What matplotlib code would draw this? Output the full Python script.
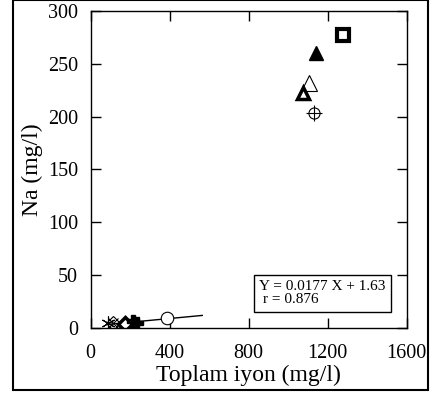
import matplotlib.pyplot as plt
from matplotlib.patches import Rectangle

plt.rcParams['font.family'] = 'Liberation Serif'

# sample points (Toplam iyon, Na)
square_x, square_y = [1276], [277]
tri_fill_x, tri_fill_y = [1139], [260]
tri_open_x, tri_open_y = [1107], [232]
tri_bold_x, tri_bold_y = [1073], [222]
circ_plus_x, circ_plus_y = [1131], [203]
circ_open_x, circ_open_y = [385], [9.5]
star_x, star_y = [90], [4]
xdiam_x, xdiam_y = [112], [4]
diam_x, diam_y = [174], [3.5]
plus_x, plus_y = [216, 232], [6, 4]

# regression line
slope, intercept = 0.0177, 1.63
line_x = [94, 565]
line_y = [slope * v + intercept for v in line_x]

fig = plt.figure(figsize=(4.33, 3.94), dpi=100)
ax = fig.add_axes([90.7 / 433, 1 - 327.7 / 394, 316 / 433, 316.7 / 394])

ax.plot(line_x, line_y, color='black', lw=1)

ax.plot(square_x, square_y, 's', ms=9, mfc='white', mec='black', mew=3)
ax.plot(tri_fill_x, tri_fill_y, '^', ms=10.5, color='black')
ax.plot(tri_open_x, tri_open_y, '^', ms=11, mfc='white', mec='black', mew=0.8)
ax.plot(tri_bold_x, tri_bold_y, '^', ms=9, mfc='white', mec='black', mew=2.5)
ax.plot(circ_plus_x, circ_plus_y, 'o', ms=8, mfc='white', mec='black', mew=0.8)
ax.plot(circ_plus_x, circ_plus_y, '+', ms=12, color='black', mew=0.8)
ax.plot(circ_open_x, circ_open_y, 'o', ms=9, mfc='white', mec='black', mew=0.8)
ax.plot(star_x, star_y, marker=(6, 2, 0), ms=10, color='black', mew=0.8, ls='none')
ax.plot(xdiam_x, xdiam_y, 'D', ms=7, mfc='none', mec='black', mew=0.8)
ax.plot(xdiam_x, xdiam_y, 'x', ms=7, color='black', mew=0.8)
ax.plot(diam_x, diam_y, 'D', ms=7, mfc='white', mec='black', mew=2.5)
ax.plot(plus_x, plus_y, 'P', ms=9, color='black')

ax.set_xlim(0, 1600)
ax.set_ylim(0, 300)
ax.set_xticks([0, 400, 800, 1200, 1600])
ax.set_yticks([0, 50, 100, 150, 200, 250, 300])
ax.tick_params(direction='in', length=7, width=1, top=True, right=True,
               labelsize=14.5)
ax.tick_params(axis='y', pad=9)
ax.tick_params(axis='x', pad=12)
for s in ax.spines.values():
    s.set_linewidth(1)

ax.set_xlabel('Toplam iyon (mg/l)', fontsize=17, labelpad=1)
ax.set_ylabel('Na (mg/l)', fontsize=17, labelpad=4)

ax.text(0.534, 0.109, 'Y = 0.0177 X + 1.63\n r = 0.876', transform=ax.transAxes,
        fontsize=11, va='center', ha='left', linespacing=1.05,
        bbox=dict(boxstyle='square,pad=0.35', fc='white', ec='black', lw=1))

fig.patches.append(Rectangle((13 / 433, 4 / 394), 415 / 433, 390 / 394,
                             transform=fig.transFigure, fill=False,
                             ec='black', lw=1.5))

fig.savefig('out.png', dpi=100)
